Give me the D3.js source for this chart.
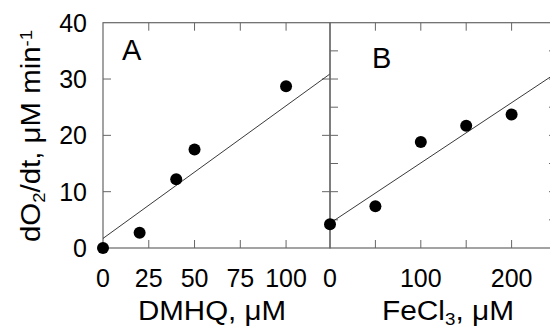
<!DOCTYPE html>
<html><head><meta charset="utf-8">
<script src="https://cdn.jsdelivr.net/npm/d3@7"></script>
<style>body{margin:0;background:#fff}svg{display:block}text{font-family:"Liberation Sans",Arial,sans-serif;fill:#000}</style>
</head><body><svg id="c" width="550" height="330"></svg>
<script>
// Data
const dmhq = [0, 20, 40, 50, 100];
const rateA = [0, 2.7, 12.2, 17.5, 28.7];
const fecl3 = [0, 50, 100, 150, 200];
const rateB = [4.2, 7.4, 18.8, 21.7, 23.7];
const fitA = [1.7, 0.2355];   // intercept, slope
const fitB = [4.4, 0.107];
const yTicks = [0, 10, 20, 30, 40];
const yMinorB = [5, 10, 15, 20, 25, 30, 35];
const xTicksA = [0, 25, 50, 75, 100];
const xTickMarksA = [25, 50, 75, 100];
const xTicksB = [0, 100, 200];
const xTickMarksB = [50, 100, 150, 200];
const domainA = [0, 124];
const domainB = [0, 250];
const yDomain = [0, 40];

const svg = d3.select("#c");
const y = d3.scaleLinear().domain(yDomain).range([248, 22.7]);
const xA = d3.scaleLinear().domain(domainA).range([103, 330]);
const xB = d3.scaleLinear().domain(domainB).range([330, 557]);
const frame = "#666", tl = 8;

function panel(x, xt, xTickMarks, yt, yRightTicks, pts, fit, label) {
  const g = svg.append("g");
  const [x0, x1] = x.range(), [yb, ytop] = y.range();
  g.append("rect").attr("x", x0).attr("y", ytop).attr("width", x1 - x0).attr("height", yb - ytop)
    .attr("fill", "none").attr("stroke", frame).attr("stroke-width", 1.2);
  xTickMarks.forEach(v => {
    g.append("line").attr("x1", x(v)).attr("x2", x(v)).attr("y1", yb).attr("y2", yb - tl).attr("stroke", frame);
    g.append("line").attr("x1", x(v)).attr("x2", x(v)).attr("y1", ytop).attr("y2", ytop + tl).attr("stroke", frame);
  });
  yt.forEach(v => {
    g.append("line").attr("x1", x0).attr("x2", x0 + tl).attr("y1", y(v)).attr("y2", y(v)).attr("stroke", frame);
  });
  yRightTicks.forEach(v => {
    g.append("line").attr("x1", x1).attr("x2", x1 - tl).attr("y1", y(v)).attr("y2", y(v)).attr("stroke", frame);
  });
  xt.forEach(v => {
    g.append("text").attr("x", x(v)).attr("y", 287).attr("text-anchor", "middle")
      .style("font-size", "25px").text(v);
  });
  const d0 = x.domain();
  g.append("line").attr("x1", x(d0[0])).attr("y1", y(fit[0] + fit[1] * d0[0]))
    .attr("x2", x(d0[1])).attr("y2", y(fit[0] + fit[1] * d0[1]))
    .attr("stroke", "#222").attr("stroke-width", 0.9);
  g.selectAll("circle.p").data(pts).enter().append("circle")
    .attr("cx", d => x(d[0])).attr("cy", d => y(d[1])).attr("r", 6).attr("fill", "#000");
  g.append("text").attr("x", x0 + 19 + (label === "B" ? 23 : 0)).attr("y", label === "B" ? 68 : 60)
    .style("font-size", "29px").text(label);
}

panel(xA, xTicksA, xTickMarksA, yTicks.slice(1, 4), yTicks.slice(1, 4), dmhq.map((d, i) => [d, rateA[i]]), fitA, "A");
panel(xB, xTicksB, xTickMarksB, yMinorB, yMinorB, fecl3.map((d, i) => [d, rateB[i]]), fitB, "B");

yTicks.forEach(v => {
  svg.append("text").attr("x", 87).attr("y", y(v)).attr("dy", "0.36em").attr("text-anchor", "end")
    .style("font-size", "25px").text(v);
});

// x axis titles
svg.append("text").attr("x", 138).attr("y", 320).attr("textLength", 148).attr("lengthAdjust", "spacingAndGlyphs")
  .style("font-size", "27px").text("DMHQ, μM");
const tB = svg.append("text").attr("x", 382).attr("y", 320).attr("textLength", 132).attr("lengthAdjust", "spacingAndGlyphs")
  .style("font-size", "27px");
tB.append("tspan").text("FeCl");
tB.append("tspan").attr("baseline-shift", "-30%").style("font-size", "17px").text("3");
tB.append("tspan").text(", μM");

// y axis title
const ty = svg.append("text").attr("transform", "translate(40,242) rotate(-90)")
  .attr("textLength", 212).attr("lengthAdjust", "spacingAndGlyphs").style("font-size", "27px");
ty.append("tspan").text("dO");
ty.append("tspan").attr("baseline-shift", "-30%").style("font-size", "17px").text("2");
ty.append("tspan").text("/dt, μM min");
ty.append("tspan").attr("baseline-shift", "45%").style("font-size", "17px").text("-1");
</script></body></html>
